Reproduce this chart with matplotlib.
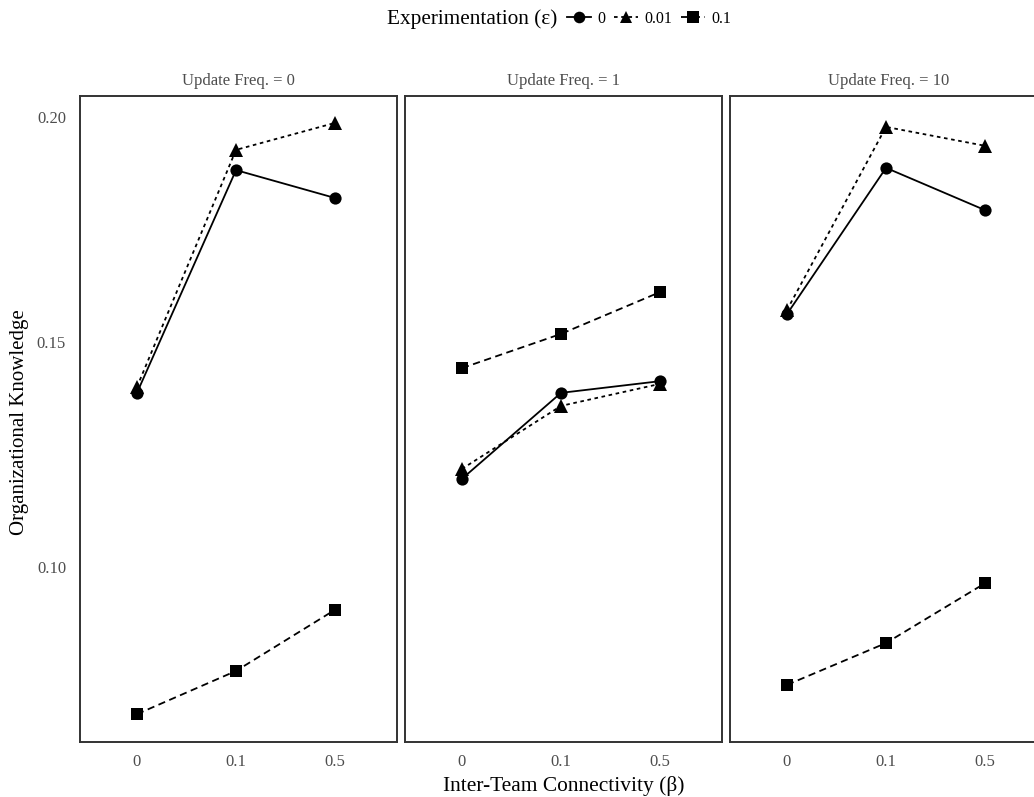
import matplotlib
matplotlib.use("Agg")
import matplotlib.pyplot as plt
from matplotlib.lines import Line2D

plt.rcParams['font.family'] = ['Liberation Serif', 'DejaVu Serif']

# Data
beta_labels = ["0", "0.1", "0.5"]
update_freqs = ["0", "1", "10"]
eps_labels = ["0", "0.01", "0.1"]

# Organizational knowledge per update frequency, one list per experimentation level
knowledge_uf0 = {
    "0":    [0.1387, 0.1882, 0.1820],
    "0.01": [0.1400, 0.1927, 0.1987],
    "0.1":  [0.0673, 0.0769, 0.0905],
}
knowledge_uf1 = {
    "0":    [0.1196, 0.1387, 0.1413],
    "0.01": [0.1218, 0.1358, 0.1407],
    "0.1":  [0.1442, 0.1518, 0.1611],
}
knowledge_uf10 = {
    "0":    [0.1562, 0.1887, 0.1793],
    "0.01": [0.1571, 0.1978, 0.1936],
    "0.1":  [0.0738, 0.0831, 0.0964],
}
panels = [knowledge_uf0, knowledge_uf1, knowledge_uf10]

styles = {
    "0":    dict(marker="o", linestyle="-", markersize=8.8),
    "0.01": dict(marker="^", linestyle=(0, (2, 2)), markersize=9.8),
    "0.1":  dict(marker="s", linestyle=(0, (4, 2.5)), markersize=8.6),
}

W, H = 1034, 797
fig = plt.figure(figsize=(W / 100, H / 100), dpi=100)

lefts = [80, 405, 730]
pw = 317
top_px, bot_px = 96, 742
grey = "#4d4d4d"

axes = []
for i, (left, data) in enumerate(zip(lefts, panels)):
    ax = fig.add_axes([left / W, 1 - bot_px / H, pw / W, (bot_px - top_px) / H])
    x = list(range(len(beta_labels)))
    for eps in eps_labels:
        st = styles[eps]
        ax.plot(x, data[eps], color="black", linewidth=1.3,
                marker=st["marker"], markersize=st["markersize"],
                linestyle=st["linestyle"], markeredgewidth=0)
    ax.set_xlim(-0.575, 2.625)
    ax.set_ylim(0.06111, 0.20467)
    ax.set_xticks(x)
    ax.set_xticklabels(beta_labels)
    ax.set_yticks([0.10, 0.15, 0.20])
    ax.set_yticklabels(["0.10", "0.15", "0.20"] if i == 0 else [])
    ax.tick_params(length=0, labelsize=12, colors=grey, pad=9)
    ax.tick_params(axis="y", pad=10)
    for sp in ax.spines.values():
        sp.set_color("#333333")
        sp.set_linewidth(1.4)
    ax.set_title(f"Update Freq. = {update_freqs[i]}", fontsize=12, color=grey, pad=8)
    axes.append(ax)

fig.text(20 / W, 1 - 422 / H, "Organizational Knowledge", fontsize=15,
         rotation=90, ha="center", va="center")
axes[1].set_xlabel("Inter-Team Connectivity (β)", fontsize=15.4, labelpad=4)

# Legend across the top
fig.text(387 / W, 1 - 19 / H, "Experimentation (ε)", fontsize=15.3,
         ha="left", va="center")
handles = [Line2D([], [], color="black", linewidth=1.3,
                  marker=styles[e]["marker"], markersize=styles[e]["markersize"] * 0.95,
                  linestyle=styles[e]["linestyle"], markeredgewidth=0)
           for e in eps_labels]
fig.legend(handles, eps_labels, loc="center left",
           bbox_to_anchor=(567 / W, 1 - 19 / H), ncol=3, frameon=False,
           fontsize=11.5, handlelength=1.5, handletextpad=0.4,
           columnspacing=0.55, borderaxespad=0, borderpad=0)

fig.savefig("out.png", dpi=100)
